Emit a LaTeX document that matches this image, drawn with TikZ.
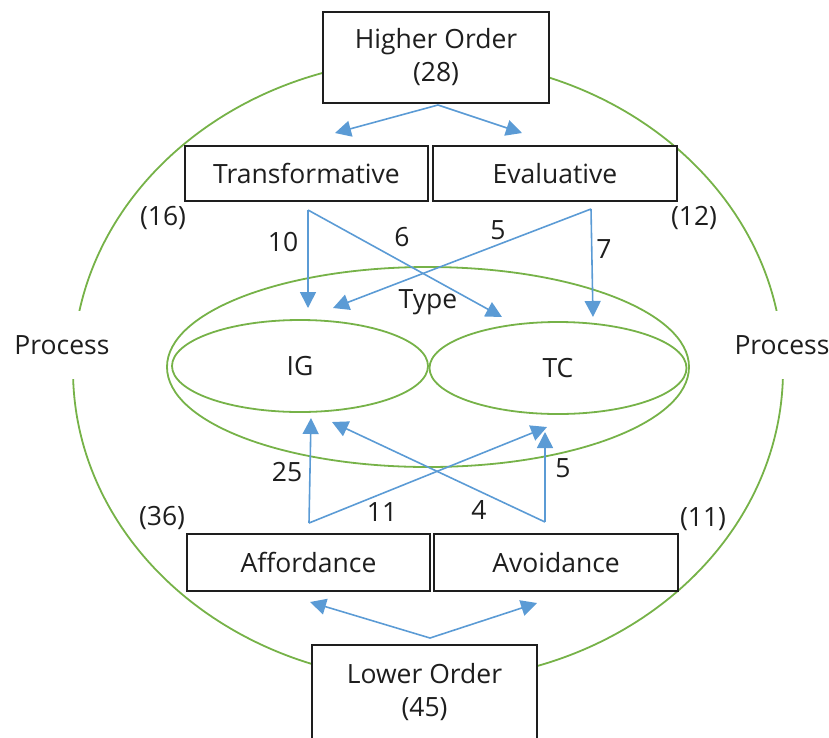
\documentclass[tikz,border=0pt]{standalone}
\usepackage{fontspec}
\setmainfont{Open Sans}
\usetikzlibrary{arrows.meta,shapes.geometric}
\definecolor{flowblue}{RGB}{91,155,213}
\definecolor{ringgreen}{RGB}{118,178,72}
\definecolor{inkgray}{RGB}{30,30,30}
\tikzset{
  box/.style={draw=inkgray, line width=2pt, fill=white, inner sep=0pt, text=inkgray},
  ring/.style={draw=ringgreen, line width=1.8pt},
  flow/.style={draw=flowblue, line width=1.6pt, -{Triangle[length=16pt,width=16pt]}},
  count/.style={text=inkgray},
}
\begin{document}
\begin{tikzpicture}[x=1pt, y=-1pt, font=\fontsize{26.5}{33}\selectfont]
\useasboundingbox (0,0) rectangle (829,737);

% process ring
\draw [ring] (428,370) ellipse [x radius=355, y radius=311];
\node [fill=white, inner xsep=2pt, inner ysep=24pt, text=inkgray] (procl) at (62,345) {Process};
\node [fill=white, inner xsep=2pt, inner ysep=24pt, text=inkgray] (procr) at (782,345) {Process};

% type
\node [ellipse, ring, minimum width=522, minimum height=200] (type) at (428,367) {};
\node [count] (typelbl) at (428,302) {Type};
\node [ellipse, ring, minimum width=256, minimum height=92, text=inkgray] (ig) at (300,366) {IG};
\node [ellipse, ring, minimum width=257, minimum height=92, text=inkgray] (tc) at (558,368) {TC};

% boxes
\node [box, minimum width=226, minimum height=91, align=center] (higher) at (436,57.5) {Higher Order\\(28)};
\node [box, minimum width=243, minimum height=55] (transf) at (306.5,173.5) {Transformative};
\node [box, minimum width=244, minimum height=55] (eval) at (555,173.5) {Evaluative};
\node [box, minimum width=243, minimum height=57] (afford) at (308.5,562.5) {Affordance};
\node [box, minimum width=244, minimum height=57] (avoid) at (556,562.5) {Avoidance};
\node [box, minimum width=225, minimum height=95, align=center] (lower) at (424.5,692.5) {Lower Order\\(45)};

% totals
\node [count] (n16) at (163,218) {(16)};
\node [count] (n12) at (694,218) {(12)};
\node [count] (n36) at (162,518) {(36)};
\node [count] (n11) at (703,519) {(11)};

% arrow ends
\coordinate (hifoot) at (438,105);
\coordinate (tfhead) at (335,133);
\coordinate (evhead) at (522,133);
\coordinate (lotop) at (430,638);
\coordinate (afhead) at (310,602);
\coordinate (avhead) at (537,603);
\coordinate (tffoot) at (308,210);
\coordinate (evfoot) at (591,209);
\coordinate (aftop) at (309,523);
\coordinate (avtop) at (545,522);
\coordinate (igtopa) at (308,308);
\coordinate (igtopb) at (333,308);
\coordinate (tctopa) at (502,317);
\coordinate (tctopb) at (593,317);
\coordinate (igbota) at (311,418);
\coordinate (igbotb) at (332,422);
\coordinate (tcbota) at (547,427);
\coordinate (tcbotb) at (545,432);

\draw [flow] (hifoot) -- (tfhead);
\draw [flow] (hifoot) -- (evhead);
\draw [flow] (lotop) -- (afhead);
\draw [flow] (lotop) -- (avhead);

\draw [flow] (tffoot) -- (igtopa);
\draw [flow] (tffoot) -- (tctopa);
\draw [flow] (evfoot) -- (igtopb);
\draw [flow] (evfoot) -- (tctopb);
\draw [flow] (aftop) -- (igbota);
\draw [flow] (aftop) -- (tcbota);
\draw [flow] (avtop) -- (igbotb);
\draw [flow] (avtop) -- (tcbotb);

% counts on arrows
\node [count] (c10) at (283,242) {10};
\node [count] (c6) at (402,237) {6};
\node [count] (c5t) at (498,230) {5};
\node [count] (c7) at (604,249) {7};
\node [count] (c25) at (287,472) {25};
\node [count] (c11) at (382,512) {11};
\node [count] (c4) at (479,510) {4};
\node [count] (c5b) at (563,468) {5};

\end{tikzpicture}
\end{document}
